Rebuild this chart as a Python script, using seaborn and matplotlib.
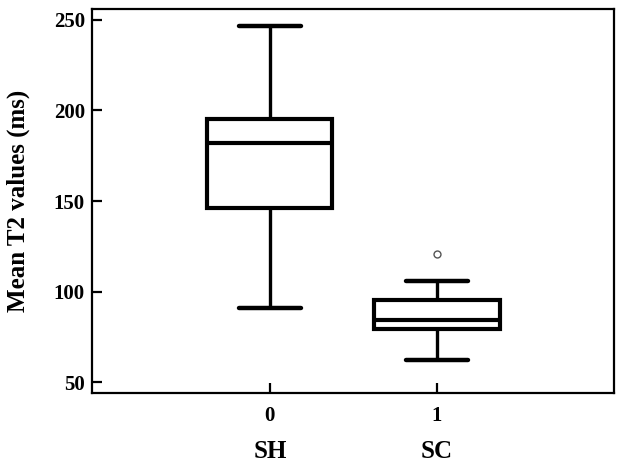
import pandas as pd
import matplotlib
matplotlib.use('Agg')
import matplotlib.pyplot as plt
import seaborn as sns

# values (whiskers, quartiles, median, outlier)
sh_values = [90.8, 145.9, 182.2, 195.5, 246.7]
sc_values = [62.0, 75.0, 79.2, 82.0, 84.2, 90.0, 95.2, 106.0, 120.5]
group_codes = ['0', '1']
group_names = ['SH', 'SC']

data = pd.DataFrame({
    'group': [group_codes[0]] * len(sh_values) + [group_codes[1]] * len(sc_values),
    'T2': sh_values + sc_values,
})

sns.set_style('white')
plt.rcParams['font.family'] = ['Liberation Serif', 'DejaVu Serif']
plt.rcParams['font.weight'] = 'bold'
plt.rcParams['text.color'] = 'black'
plt.rcParams['axes.labelcolor'] = 'black'

fig = plt.figure(figsize=(6.24, 4.68), dpi=100)
ax = fig.add_axes([0.147, 0.160, 0.837, 0.821])

sns.boxplot(data=data, x='group', y='T2', order=group_codes, ax=ax,
            width=0.75, color='white', linecolor='black', linewidth=3.0,
            whis=1.5,
            whiskerprops={'linewidth': 2.4},
            capprops={'linewidth': 3.2},
            flierprops={'marker': 'o', 'markersize': 5, 'markerfacecolor': 'white',
                        'markeredgecolor': '#555555', 'markeredgewidth': 1.0})

ax.set_xlim(-1.066, 2.06)
ax.set_ylim(44, 256)
ax.set_yticks([50, 100, 150, 200, 250])
ax.set_xlabel('')
ax.set_ylabel('Mean T2 values (ms)', fontsize=18, fontweight='bold', labelpad=17)

for s in ax.spines.values():
    s.set_visible(True)
    s.set_color('black')
    s.set_linewidth(1.6)

ax.tick_params(axis='both', direction='in', length=7, width=1.6, labelsize=15,
               colors='black', pad=6)
ax.tick_params(axis='y', left=True, right=False, pad=5)
ax.tick_params(axis='x', bottom=True, top=False, pad=9)
for lab in ax.get_xticklabels() + ax.get_yticklabels():
    lab.set_fontweight('bold')

for i, name in enumerate(group_names):
    ax.text(i, -0.151, name, transform=ax.get_xaxis_transform(), ha='center',
            va='center', fontsize=18, fontweight='bold')

fig.savefig('out.png', dpi=100)
